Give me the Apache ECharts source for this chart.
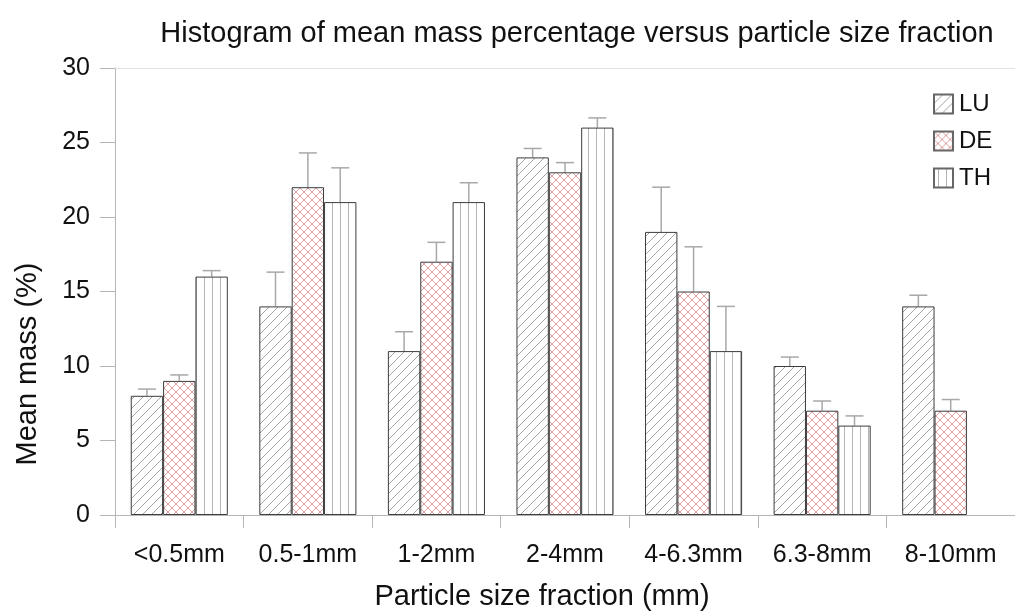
<!DOCTYPE html>
<html>
<head>
<meta charset="utf-8">
<script src="https://cdn.jsdelivr.net/npm/echarts@6/dist/echarts.min.js"></script>
<style>html,body{margin:0;padding:0;background:#fff}#c{width:1015px;height:614px}</style>
</head>
<body>
<div id="c"></div>
<script>
const categories = ['<0.5mm', '0.5-1mm', '1-2mm', '2-4mm', '4-6.3mm', '6.3-8mm', '8-10mm'];
const seriesNames = ['LU', 'DE', 'TH'];
const luValues = [8, 14, 11, 24, 19, 10, 14];
const deValues = [9, 22, 17, 23, 15, 7, 7];
const thValues = [16, 21, 21, 26, 11, 6, null];
const luErrors = [0.45, 2.3, 1.3, 0.6, 3.0, 0.6, 0.75];
const deErrors = [0.4, 2.3, 1.3, 0.65, 3.0, 0.65, 0.75];
const thErrors = [0.4, 2.3, 1.3, 0.65, 3.0, 0.65, null];
const yTicks = [0, 5, 10, 15, 20, 25, 30];

const FONT = '"Liberation Sans", Arial, sans-serif';

function makePattern(kind) {
  const s = kind === 'diag' ? 9 : 8;
  const cv = document.createElement('canvas');
  cv.width = s; cv.height = s;
  const ctx = cv.getContext('2d');
  ctx.fillStyle = '#ffffff';
  ctx.fillRect(0, 0, s, s);
  ctx.lineWidth = 1;
  if (kind === 'diag') {
    ctx.strokeStyle = '#a4a4a4';
    ctx.beginPath();
    ctx.moveTo(0, s); ctx.lineTo(s, 0);
    ctx.moveTo(-1, 1); ctx.lineTo(1, -1);
    ctx.moveTo(s - 1, s + 1); ctx.lineTo(s + 1, s - 1);
    ctx.stroke();
  } else if (kind === 'cross') {
    ctx.strokeStyle = 'rgba(205,120,120,0.7)';
    ctx.beginPath();
    ctx.moveTo(0, s); ctx.lineTo(s, 0);
    ctx.moveTo(-1, 1); ctx.lineTo(1, -1);
    ctx.moveTo(s - 1, s + 1); ctx.lineTo(s + 1, s - 1);
    ctx.moveTo(0, 0); ctx.lineTo(s, s);
    ctx.moveTo(-1, s - 1); ctx.lineTo(1, s + 1);
    ctx.moveTo(s - 1, -1); ctx.lineTo(s + 1, 1);
    ctx.stroke();
  } else {
    ctx.strokeStyle = '#b4b4b4';
    ctx.beginPath();
    ctx.moveTo(4.5, 0); ctx.lineTo(4.5, s);
    ctx.stroke();
  }
  return { image: cv, repeat: 'repeat' };
}

const patterns = [makePattern('diag'), makePattern('cross'), makePattern('vert')];
const valueSets = [luValues, deValues, thValues];
const errorSets = [luErrors, deErrors, thErrors];
const CAT_GAP = 0.245;

const chart = echarts.init(document.getElementById('c'));

const barSeries = seriesNames.map((name, i) => ({
  name: name,
  type: 'bar',
  data: valueSets[i].map(v => v == null ? '-' : v),
  barGap: '0%',
  barCategoryGap: (CAT_GAP * 100) + '%',
  itemStyle: { color: patterns[i], borderColor: '#3c3c3c', borderWidth: 1 },
  emphasis: { disabled: true },
  z: 2,
  markLine: i === 0 ? {
    silent: true, symbol: 'none', label: { show: false },
    lineStyle: { color: '#e2e2e2', type: 'solid', width: 1 },
    data: [{ yAxis: 30 }]
  } : undefined
}));

const errSeries = seriesNames.map((name, i) => ({
  type: 'custom',
  name: name + '_err',
  z: 1,
  silent: true,
  data: valueSets[i].map((v, k) => v == null ? null : [k, v, v + errorSets[i][k]]).filter(d => d),
  renderItem: function (params, api) {
    const k = api.value(0);
    const base = api.coord([k, api.value(1)]);
    const top = api.coord([k, api.value(2)]);
    const bw = api.size([1, 0])[0] * (1 - CAT_GAP) / 3;
    const cx = base[0] + (i - 1) * bw;
    const half = 9;
    const st = { stroke: '#a8a8a8', lineWidth: 1.5 };
    return {
      type: 'group',
      children: [
        { type: 'line', shape: { x1: cx, y1: base[1], x2: cx, y2: top[1] }, style: st },
        { type: 'line', shape: { x1: cx - half, y1: top[1], x2: cx + half, y2: top[1] }, style: st }
      ]
    };
  }
}));

chart.setOption({
  animation: false,
  backgroundColor: '#ffffff',
  textStyle: { fontFamily: FONT },
  title: {
    text: 'Histogram of mean mass percentage versus particle size fraction',
    left: 572, top: 14, textAlign: 'center',
    textStyle: { fontFamily: FONT, fontSize: 29, fontWeight: 'normal', color: '#111' }
  },
  legend: {
    data: seriesNames,
    orient: 'vertical',
    left: 928, top: 87,
    itemWidth: 19, itemHeight: 19, itemGap: 13,
    icon: 'rect',
    itemStyle: { borderColor: '#666' },
    textStyle: { fontFamily: FONT, fontSize: 24, color: '#111', padding: [0, 0, 0, 1] }
  },
  grid: { left: 115, right: -4, top: 68, bottom: 99 },
  graphic: [
    {
      type: 'text', silent: true,
      x: 542, y: 597,
      style: { text: 'Particle size fraction (mm)', font: '29px ' + FONT, fill: '#111', textAlign: 'center', textVerticalAlign: 'middle' }
    },
    {
      type: 'text', silent: true,
      x: 28, y: 364, rotation: Math.PI / 2,
      style: { text: 'Mean mass (%)', font: '29px ' + FONT, fill: '#111', textAlign: 'center', textVerticalAlign: 'middle' }
    }
  ],
  xAxis: {
    type: 'category',
    data: categories,
    axisLine: { lineStyle: { color: '#b5b5b5', width: 1 } },
    axisTick: { show: true, alignWithLabel: false, length: 13, lineStyle: { color: '#b5b5b5' } },
    axisLabel: { fontFamily: FONT, fontSize: 25, color: '#111', margin: 28, interval: 0 }
  },
  yAxis: {
    type: 'value',
    min: yTicks[0], max: yTicks[yTicks.length - 1], interval: 5,
    axisLine: { show: true, lineStyle: { color: '#b5b5b5', width: 1 } },
    axisTick: { show: true, length: 15, lineStyle: { color: '#b5b5b5' } },
    splitLine: { show: false },
    axisLabel: { fontFamily: FONT, fontSize: 25, color: '#111', margin: 25 }
  },
  series: [...errSeries, ...barSeries]
});
</script>
</body>
</html>
